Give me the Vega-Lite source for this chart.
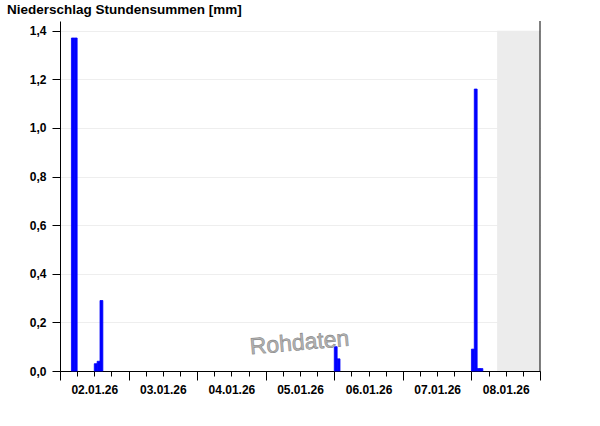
{
  "$schema": "https://vega.github.io/schema/vega-lite/v6.json",
  "width": 480,
  "height": 350,
  "autosize": {"type": "none"},
  "padding": {"left": 60, "top": 21, "right": 60, "bottom": 55},
  "background": "white",
  "title": {
    "text": "Niederschlag Stundensummen [mm]",
    "anchor": "start",
    "frame": "group",
    "dx": -53,
    "offset": 4,
    "font": "Liberation Sans",
    "fontSize": 13.5,
    "fontWeight": "bold",
    "color": "black"
  },
  "config": {
    "view": {"stroke": null},
    "axis": {"labelFont": "Liberation Sans", "labelFontWeight": "bold", "labelFontSize": 12, "labelColor": "black", "domainColor": "black", "tickColor": "black"}
  },
  "resolve": {"axis": {"x": "independent"}},
  "datasets": {
    "bars": [
      {"start": "2026-01-02T04:00:00", "end": "2026-01-02T05:00:00", "mm": 1.37},
      {"start": "2026-01-02T05:00:00", "end": "2026-01-02T06:00:00", "mm": 1.37},
      {"start": "2026-01-02T12:00:00", "end": "2026-01-02T13:00:00", "mm": 0.03},
      {"start": "2026-01-02T13:00:00", "end": "2026-01-02T14:00:00", "mm": 0.04},
      {"start": "2026-01-02T14:00:00", "end": "2026-01-02T15:00:00", "mm": 0.29},
      {"start": "2026-01-06T00:00:00", "end": "2026-01-06T01:00:00", "mm": 0.10},
      {"start": "2026-01-06T01:00:00", "end": "2026-01-06T02:00:00", "mm": 0.05},
      {"start": "2026-01-08T00:00:00", "end": "2026-01-08T01:00:00", "mm": 0.09},
      {"start": "2026-01-08T01:00:00", "end": "2026-01-08T02:00:00", "mm": 1.16},
      {"start": "2026-01-08T02:00:00", "end": "2026-01-08T03:00:00", "mm": 0.01},
      {"start": "2026-01-08T03:00:00", "end": "2026-01-08T04:00:00", "mm": 0.01}
    ],
    "future": [
      {"start": "2026-01-08T09:00:00", "end": "2026-01-09T00:00:00", "lo": 0, "hi": 1.4}
    ],
    "watermark": [
      {"t": "2026-01-05T11:50:00", "v": 0.115, "label": "Rohdaten"}
    ],
    "edge": [
      {"t": "2026-01-09T00:00:00"}
    ]
  },
  "layer": [
    {
      "data": {"name": "future"},
      "mark": {"type": "rect", "color": "#ececec"},
      "encoding": {
        "x": {"field": "start", "type": "temporal",
          "scale": {"domain": [{"year": 2026, "month": 1, "date": 2}, {"year": 2026, "month": 1, "date": 9}]},
          "axis": {
            "orient": "bottom",
            "title": null,
            "values": [
              {"year": 2026, "month": 1, "date": 2, "hours": 0}, {"year": 2026, "month": 1, "date": 2, "hours": 6}, {"year": 2026, "month": 1, "date": 2, "hours": 12}, {"year": 2026, "month": 1, "date": 2, "hours": 18},
              {"year": 2026, "month": 1, "date": 3, "hours": 0}, {"year": 2026, "month": 1, "date": 3, "hours": 6}, {"year": 2026, "month": 1, "date": 3, "hours": 12}, {"year": 2026, "month": 1, "date": 3, "hours": 18},
              {"year": 2026, "month": 1, "date": 4, "hours": 0}, {"year": 2026, "month": 1, "date": 4, "hours": 6}, {"year": 2026, "month": 1, "date": 4, "hours": 12}, {"year": 2026, "month": 1, "date": 4, "hours": 18},
              {"year": 2026, "month": 1, "date": 5, "hours": 0}, {"year": 2026, "month": 1, "date": 5, "hours": 6}, {"year": 2026, "month": 1, "date": 5, "hours": 12}, {"year": 2026, "month": 1, "date": 5, "hours": 18},
              {"year": 2026, "month": 1, "date": 6, "hours": 0}, {"year": 2026, "month": 1, "date": 6, "hours": 6}, {"year": 2026, "month": 1, "date": 6, "hours": 12}, {"year": 2026, "month": 1, "date": 6, "hours": 18},
              {"year": 2026, "month": 1, "date": 7, "hours": 0}, {"year": 2026, "month": 1, "date": 7, "hours": 6}, {"year": 2026, "month": 1, "date": 7, "hours": 12}, {"year": 2026, "month": 1, "date": 7, "hours": 18},
              {"year": 2026, "month": 1, "date": 8, "hours": 0}, {"year": 2026, "month": 1, "date": 8, "hours": 6}, {"year": 2026, "month": 1, "date": 8, "hours": 12}, {"year": 2026, "month": 1, "date": 8, "hours": 18},
              {"year": 2026, "month": 1, "date": 9, "hours": 0}
            ],
            "tickSize": 5,
            "labelExpr": "hours(datum.value) === 12 ? timeFormat(datum.value, '%d.%m.%y') : ''",
            "labelPadding": 8,
            "labelOverlap": false,
            "labelFlush": false,
            "grid": false
          }
        },
        "x2": {"field": "end"},
        "y": {"field": "lo", "type": "quantitative",
          "scale": {"domain": [0, 1.44], "nice": false, "zero": true},
          "axis": {
            "title": null,
            "values": [0, 0.2, 0.4, 0.6, 0.8, 1.0, 1.2, 1.4],
            "labelExpr": "replace(format(datum.value, '.1f'), '.', ',')",
            "tickSize": 8,
            "labelPadding": 6,
            "grid": true,
            "gridColor": "#eeeeee"
          }
        },
        "y2": {"field": "hi"}
      }
    },
    {
      "data": {"name": "bars"},
      "mark": {"type": "rect", "color": "#0000ff", "stroke": "#0000ff", "strokeWidth": 0.8},
      "encoding": {
        "x": {"field": "start", "type": "temporal",
          "axis": {
            "orient": "bottom",
            "title": null,
            "values": [
              {"year": 2026, "month": 1, "date": 2}, {"year": 2026, "month": 1, "date": 3}, {"year": 2026, "month": 1, "date": 4}, {"year": 2026, "month": 1, "date": 5},
              {"year": 2026, "month": 1, "date": 6}, {"year": 2026, "month": 1, "date": 7}, {"year": 2026, "month": 1, "date": 8}, {"year": 2026, "month": 1, "date": 9}
            ],
            "tickSize": 9,
            "labels": false,
            "domain": false,
            "grid": false
          }
        },
        "x2": {"field": "end"},
        "y": {"field": "mm", "type": "quantitative"},
        "y2": {"datum": 0}
      }
    },
    {
      "data": {"name": "watermark"},
      "mark": {"type": "text", "font": "Liberation Sans", "fontSize": 23, "angle": 355, "fill": "#b4b4b4", "stroke": "#8a8a8a", "strokeWidth": 0.6, "align": "center", "baseline": "middle"},
      "encoding": {
        "x": {"field": "t", "type": "temporal", "axis": null},
        "y": {"field": "v", "type": "quantitative"},
        "text": {"field": "label"}
      }
    },
    {
      "data": {"name": "edge"},
      "mark": {"type": "rule", "color": "black", "strokeWidth": 1},
      "encoding": {
        "x": {"field": "t", "type": "temporal", "axis": null}
      }
    }
  ]
}
